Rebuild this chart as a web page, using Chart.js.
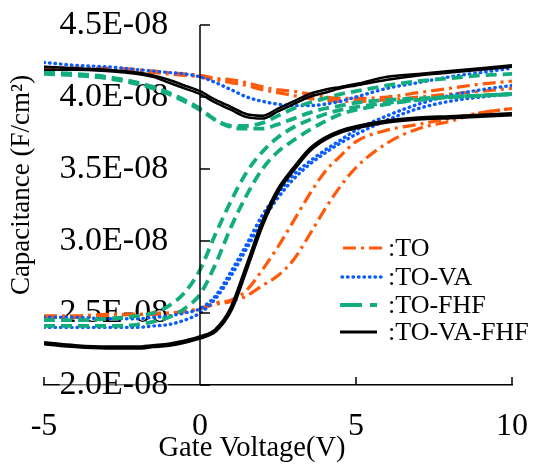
<!DOCTYPE html>
<html>
<head>
<meta charset="utf-8">
<script src="https://cdn.jsdelivr.net/npm/chart.js@4.4.1/dist/chart.umd.min.js"></script>
<style>
  html, body { margin: 0; padding: 0; background: #fff; }
  #wrap { width: 533px; height: 468px; }
</style>
</head>
<body>
<div id="wrap"><canvas id="graficoCV" width="533" height="468"></canvas></div>
<script>
"use strict";

//Tensión de puerta (V)
const voltage = [-5, -4, -3, -2, -1.5, -1, -0.5, 0, 0.5, 1, 1.5, 2, 2.5, 3, 3.5, 4, 4.5, 5, 6, 7, 8, 9, 10];

//Capacitancia en unidades de 1E-08 F/cm2
//TO
const toLow1 = [4.20, 4.20, 4.20, 4.19, 4.18, 4.17, 4.16, 4.15, 4.13, 4.12, 4.10, 4.07, 4.05, 4.04, 4.02, 4.00, 3.99, 3.99, 4.00, 4.03, 4.06, 4.09, 4.11];
const toLow2 = [4.20, 4.20, 4.19, 4.18, 4.17, 4.16, 4.15, 4.14, 4.12, 4.10, 4.08, 4.05, 4.03, 4.01, 3.99, 3.98, 3.97, 3.97, 3.98, 4.00, 4.02, 4.04, 4.06];
const toHigh1 = [2.48, 2.48, 2.49, 2.49, 2.50, 2.50, 2.51, 2.53, 2.57, 2.59, 2.66, 2.80, 2.96, 3.14, 3.32, 3.48, 3.59, 3.69, 3.77, 3.81, 3.85, 3.89, 3.92];
const toHigh2 = [2.47, 2.47, 2.48, 2.49, 2.49, 2.50, 2.51, 2.53, 2.56, 2.58, 2.62, 2.69, 2.76, 2.87, 3.04, 3.22, 3.38, 3.51, 3.68, 3.78, 3.83, 3.89, 3.92];
//TO-VA
const vaLow = [4.24, 4.22, 4.21, 4.19, 4.18, 4.17, 4.16, 4.14, 4.10, 4.05, 4.00, 3.97, 3.95, 3.94, 3.94, 3.95, 3.97, 4.00, 4.06, 4.10, 4.14, 4.17, 4.20];
const vaHigh1 = [2.47, 2.47, 2.46, 2.46, 2.47, 2.48, 2.50, 2.53, 2.62, 2.79, 2.98, 3.18, 3.33, 3.46, 3.55, 3.63, 3.70, 3.77, 3.87, 3.95, 4.01, 4.05, 4.08];
const vaHigh2 = [2.40, 2.40, 2.40, 2.40, 2.41, 2.42, 2.45, 2.50, 2.60, 2.76, 2.95, 3.14, 3.30, 3.43, 3.53, 3.61, 3.68, 3.74, 3.84, 3.92, 3.97, 4.00, 4.02];
//TO-FHF
const fhfLow1 = [4.17, 4.16, 4.14, 4.10, 4.07, 4.03, 3.98, 3.92, 3.84, 3.79, 3.78, 3.78, 3.81, 3.85, 3.89, 3.92, 3.94, 3.96, 3.98, 3.99, 4.00, 4.01, 4.02];
const fhfLow2 = [4.16, 4.15, 4.13, 4.09, 4.06, 4.02, 3.97, 3.91, 3.84, 3.80, 3.80, 3.82, 3.87, 3.92, 3.96, 3.99, 4.02, 4.04, 4.08, 4.11, 4.13, 4.15, 4.16];
const fhfHigh1 = [2.45, 2.45, 2.46, 2.48, 2.50, 2.55, 2.64, 2.80, 3.05, 3.28, 3.48, 3.62, 3.72, 3.79, 3.84, 3.88, 3.91, 3.93, 3.96, 3.98, 4.00, 4.01, 4.02];
const fhfHigh2 = [2.41, 2.41, 2.41, 2.42, 2.44, 2.47, 2.53, 2.63, 2.84, 3.10, 3.32, 3.50, 3.62, 3.70, 3.77, 3.83, 3.88, 3.91, 3.95, 3.98, 4.00, 4.01, 4.02];
//TO-VA-FHF
const allLow1 = [4.21, 4.20, 4.19, 4.17, 4.15, 4.12, 4.08, 4.04, 3.98, 3.93, 3.88, 3.87, 3.92, 3.97, 4.02, 4.05, 4.07, 4.09, 4.14, 4.16, 4.18, 4.20, 4.22];
const allLow2 = [4.19, 4.19, 4.18, 4.16, 4.14, 4.10, 4.06, 4.02, 3.96, 3.91, 3.86, 3.85, 3.90, 3.95, 4.00, 4.03, 4.06, 4.08, 4.12, 4.15, 4.17, 4.19, 4.21];
const allHigh = [2.29, 2.27, 2.26, 2.26, 2.27, 2.28, 2.30, 2.33, 2.38, 2.53, 2.82, 3.12, 3.35, 3.50, 3.63, 3.71, 3.76, 3.79, 3.83, 3.85, 3.86, 3.87, 3.88];

const yTicks = [2.0, 2.5, 3.0, 3.5, 4.0, 4.5];
const xTicks = [-5, 0, 5, 10];

const serif = '"Liberation Serif", "Times New Roman", serif';

//Estilos de cada muestra
const estilos = {
    TO: { borderColor: '#ff5a0a', borderWidth: 3.2, borderDash: [13, 5, 3, 5], borderCapStyle: 'butt', order: 3 },
    VA: { borderColor: '#0a5cff', borderWidth: 3.4, borderDash: [0.5, 5], borderCapStyle: 'round', order: 2 },
    FHF: { borderColor: '#12ad7e', borderWidth: 3.8, borderDash: [11, 6], borderCapStyle: 'butt', order: 1 },
    ALL: { borderColor: '#000000', borderWidth: 3, borderDash: [], borderCapStyle: 'butt', order: 0 }
};

function curva(label, valores, estilo, ancho) {
    return Object.assign({
        label: label,
        data: valores.map((c, i) => ({ x: voltage[i], y: c })),
        fill: false,
        pointRadius: 0,
        cubicInterpolationMode: 'monotone'
    }, estilo, ancho ? { borderWidth: ancho } : {});
}

const leyenda = [
    { texto: ':TO', estilo: estilos.TO, x1: 343, x2: 383, y: 248 },
    { texto: ':TO-VA', estilo: estilos.VA, x1: 342, x2: 383, y: 277 },
    { texto: ':TO-FHF', estilo: Object.assign({}, estilos.FHF, { borderDash: [22, 8] }), x1: 340, x2: 377, y: 305 },
    { texto: ':TO-VA-FHF', estilo: estilos.ALL, x1: 340, x2: 377, y: 332 }
];

//Eje en x=0, ticks interiores, títulos y leyenda
const decorado = {
    id: 'decorado',
    afterDraw(chart) {
        const { ctx, chartArea, scales } = chart;
        const x = scales.x, y = scales.y;
        const x0 = x.getPixelForValue(0);
        ctx.save();
        ctx.strokeStyle = '#000';
        ctx.lineWidth = 1.5;
        ctx.setLineDash([]);
        ctx.beginPath();
        ctx.moveTo(x0, y.getPixelForValue(4.5));
        ctx.lineTo(x0, y.getPixelForValue(2.0));
        x.ticks.forEach(t => {
            const px = x.getPixelForValue(t.value);
            ctx.moveTo(px, chartArea.bottom);
            ctx.lineTo(px, chartArea.bottom - 8);
        });
        y.ticks.forEach(t => {
            const py = y.getPixelForValue(t.value);
            ctx.moveTo(x0, py);
            ctx.lineTo(x0 + 10, py);
        });
        ctx.stroke();

        ctx.fillStyle = '#000';
        ctx.font = '28.5px ' + serif;
        ctx.textAlign = 'center';
        ctx.textBaseline = 'alphabetic';
        ctx.fillText('Gate Voltage(V)', 252, 456);

        ctx.save();
        ctx.font = '27px ' + serif;
        ctx.translate(29, 185);
        ctx.rotate(-Math.PI / 2);
        ctx.fillText('Capacitance (F/cm\u00B2)', 0, 0);
        ctx.restore();

        ctx.font = '26px ' + serif;
        ctx.textAlign = 'left';
        ctx.textBaseline = 'middle';
        leyenda.forEach(item => {
            ctx.strokeStyle = item.estilo.borderColor;
            ctx.lineWidth = item.estilo.borderWidth;
            ctx.lineCap = item.estilo.borderCapStyle;
            ctx.setLineDash(item.estilo.borderDash);
            ctx.beginPath();
            ctx.moveTo(item.x1, item.y);
            ctx.lineTo(item.x2, item.y);
            ctx.stroke();
            ctx.fillText(item.texto, 388, item.y + 1);
        });
        ctx.restore();
    }
};

function sinRelleno(s) {
    s.paddingLeft = 0;
    s.paddingRight = 0;
    s.paddingTop = 0;
    s.paddingBottom = 0;
}

const ctx = document.getElementById('graficoCV').getContext('2d');
new Chart(ctx, {
    type: 'line',
    data: {
        datasets: [
            curva('TO', toLow1, estilos.TO),
            curva('TO', toLow2, estilos.TO),
            curva('TO', toHigh1, estilos.TO),
            curva('TO', toHigh2, estilos.TO),
            curva('TO-VA', vaLow, estilos.VA),
            curva('TO-VA', vaHigh1, estilos.VA),
            curva('TO-VA', vaHigh2, estilos.VA),
            curva('TO-FHF', fhfLow1, estilos.FHF),
            curva('TO-FHF', fhfLow2, estilos.FHF),
            curva('TO-FHF', fhfHigh1, estilos.FHF),
            curva('TO-FHF', fhfHigh2, estilos.FHF),
            curva('TO-VA-FHF', allLow1, estilos.ALL, 2.5),
            curva('TO-VA-FHF', allLow2, estilos.ALL, 2.5),
            curva('TO-VA-FHF', allHigh, estilos.ALL, 4.5)
        ]
    },
    options: {
        responsive: false,
        animation: false,
        layout: { padding: { left: 44, right: 21, top: 25, bottom: 0 } },
        plugins: {
            legend: { display: false },
            tooltip: { enabled: false }
        },
        scales: {
            x: {
                type: 'linear',
                position: 'bottom',
                min: -5,
                max: 10,
                afterFit: s => { sinRelleno(s); s.height = 83; },
                afterBuildTicks: s => { s.ticks = xTicks.map(v => ({ value: v })); },
                grid: { display: false, drawTicks: false },
                border: { display: true, color: '#000', width: 1.5 },
                ticks: {
                    color: '#000',
                    padding: 22,
                    font: { family: serif, size: 32 }
                }
            },
            y: {
                type: 'linear',
                //etiquetas a la izquierda del eje x=0
                position: { x: -1.02 },
                min: 2.0,
                max: 4.5,
                z: 1,
                afterFit: sinRelleno,
                afterBuildTicks: s => { s.ticks = yTicks.map(v => ({ value: v })); },
                grid: { display: false, drawTicks: false },
                border: { display: false },
                ticks: {
                    color: '#000',
                    showLabelBackdrop: true,
                    backdropColor: 'rgba(255,255,255,0.45)',
                    backdropPadding: 0,
                    font: { family: serif, size: 34 },
                    callback: v => v.toFixed(1) + 'E-08'
                }
            }
        }
    },
    plugins: [decorado]
});
</script>
</body>
</html>
